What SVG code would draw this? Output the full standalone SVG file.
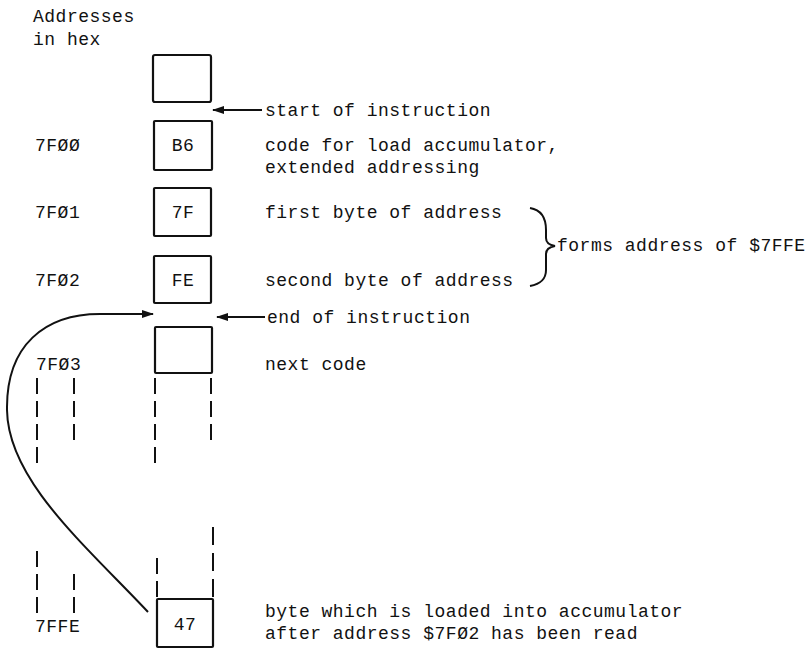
<svg xmlns="http://www.w3.org/2000/svg" width="810" height="657" viewBox="0 0 810 657">
<style>
text{font-family:"Liberation Mono","DejaVu Sans Mono",monospace;font-size:18px;fill:#111;letter-spacing:0.5px}
.box{fill:none;stroke:#111;stroke-width:2.2}
.ln{fill:none;stroke:#111;stroke-width:2}
.dash{fill:none;stroke:#111;stroke-width:2;stroke-dasharray:16 7}
.c{text-anchor:middle}
</style>
<defs>
<marker id="ah" markerWidth="12" markerHeight="8" refX="11" refY="4" orient="auto" markerUnits="userSpaceOnUse">
<path d="M0,0 L12,4 L0,8 Z" fill="#111"/>
</marker>
</defs>
<rect width="810" height="657" fill="#fff"/>
<g id="header">
<text x="33" y="22">Addresses</text>
<text x="33" y="45">in hex</text>
</g>
<g id="cell0"><rect class="box" x="153" y="55" width="58" height="47" rx="2"/></g>
<g id="cell-7F00">
<rect class="box" x="154" y="121" width="58" height="49" rx="1"/>
<text class="c" x="183" y="151">B6</text>
<text x="35" y="151">7FØØ</text>
<text x="265" y="151">code for load accumulator,</text>
<text x="265" y="173">extended addressing</text>
</g>
<g id="cell-7F01">
<rect class="box" x="154" y="188" width="57" height="48" rx="1"/>
<text class="c" x="183" y="218">7F</text>
<text x="35" y="218">7FØ1</text>
<text x="265" y="218">first byte of address</text>
</g>
<g id="cell-7F02">
<rect class="box" x="154" y="256" width="57" height="47" rx="1"/>
<text class="c" x="183" y="286">FE</text>
<text x="35" y="286">7FØ2</text>
<text x="265" y="286">second byte of address</text>
</g>
<g id="cell-7F03">
<rect class="box" x="155" y="327" width="57" height="46" rx="1"/>
<text x="36" y="370">7FØ3</text>
<text x="265" y="370">next code</text>
</g>
<g id="cell-7FFE">
<rect class="box" x="157" y="599" width="56" height="48" rx="1"/>
<text class="c" x="185" y="630">47</text>
<text x="35" y="632">7FFE</text>
<text x="265" y="617">byte which is loaded into accumulator</text>
<text x="265" y="639">after address $7FØ2 has been read</text>
</g>
<g id="brace">
<path class="ln" d="M530,208 C542,210 546,218 546,230 L546,238 C546,243 549,245 555,246 C549,247 546,249 546,254 L546,270 C546,280 540,284 530,286"/>
<text x="557" y="251">forms address of $7FFE</text>
</g>
<g id="labels">
<text x="265" y="116">start of instruction</text>
<text x="267" y="323">end of instruction</text>
</g>
<g id="connectors">
<line class="ln" x1="262" y1="110" x2="213" y2="110" marker-end="url(#ah)"/>
<line class="ln" x1="265" y1="317" x2="217" y2="317" marker-end="url(#ah)"/>
<path class="ln" d="M148,612 C85,545 8,480 7,410 C6,345 45,314 100,314 L153,314" marker-end="url(#ah)"/>
<line class="dash" x1="37" y1="378" x2="37" y2="463"/>
<line class="dash" x1="74" y1="378" x2="74" y2="440"/>
<line class="dash" x1="155" y1="378" x2="155" y2="463"/>
<line class="dash" x1="211" y1="378" x2="211" y2="440"/>
<line class="dash" x1="37" y1="551" x2="37" y2="613"/>
<line class="dash" x1="74" y1="574" x2="74" y2="613"/>
<line class="dash" x1="157" y1="558" x2="157" y2="597"/>
<line class="dash" x1="213" y1="527" x2="213" y2="597" style="stroke-dasharray:18 8"/>
</g>
</svg>
